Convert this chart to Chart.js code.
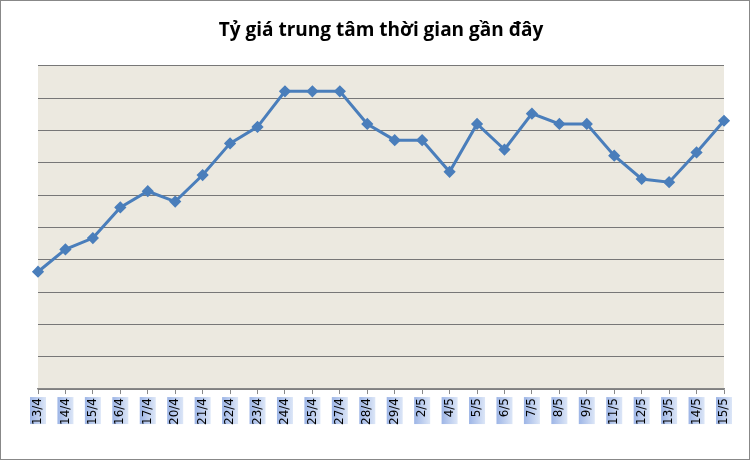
<!DOCTYPE html>
<html><head><meta charset="utf-8">
<script src="https://cdn.jsdelivr.net/npm/chart.js@4"></script>
<style>html,body{margin:0;background:#fff}#w{width:748px;height:458px;border:1px solid #888;position:relative}</style>
</head><body><div id="w"><canvas id="c"></canvas></div>
<script>
const labels=["13/4","14/4","15/4","16/4","17/4","20/4","21/4","22/4","23/4","24/4","25/4","27/4","28/4","29/4","2/5","4/5","5/5","6/5","7/5","8/5","9/5","11/5","12/5","13/5","14/5","15/5"];
const values=[3.63,4.32,4.67,5.62,6.12,5.80,6.62,7.60,8.11,9.21,9.21,9.21,8.20,7.70,7.70,6.72,8.20,7.41,8.52,8.20,8.20,7.22,6.50,6.40,7.32,8.30];
const bgPlugin={id:'bg',beforeDraw(ch){const a=ch.chartArea,x=ch.ctx;x.save();x.fillStyle='#ECE9E0';x.fillRect(a.left,a.top,a.right-a.left,a.bottom-a.top);
const s=ch.scales.x;for(let i=0;i<labels.length;i++){const px=s.getPixelForTick(i);const g=x.createLinearGradient(px-8,0,px+8,0);g.addColorStop(0,'#9DB5E6');g.addColorStop(1,'#DCE6F7');x.fillStyle=g;x.fillRect(px-8,a.bottom+8,16,27);}x.restore();}};
new Chart(document.getElementById('c'),{type:'line',data:{labels,datasets:[{data:values,borderColor:'#4A7EBB',backgroundColor:'#4A7EBB',borderWidth:3,pointStyle:'rectRot',pointRadius:4,pointHoverRadius:4,tension:0}]},
options:{responsive:true,maintainAspectRatio:false,animation:false,layout:{padding:{left:37,right:25,top:4,bottom:30}},
plugins:{legend:{display:false},tooltip:{enabled:false},title:{display:true,text:'Tỷ giá trung tâm thời gian gần đây',font:{family:'Open Sans',size:19,weight:'bold'},color:'#000',padding:{top:14,bottom:24}}},
scales:{x:{offset:false,grid:{display:true,drawOnChartArea:false,drawTicks:true,tickLength:5,color:'#888'},border:{color:'#888',width:1.5},ticks:{maxRotation:90,minRotation:90,autoSkip:false,color:'#000',font:{family:'DejaVu Sans',size:12},padding:4}},
y:{min:0,max:10,ticks:{stepSize:1,display:false},grid:{color:'#777',drawTicks:false},border:{display:false}}}},plugins:[bgPlugin]});
</script></body></html>
